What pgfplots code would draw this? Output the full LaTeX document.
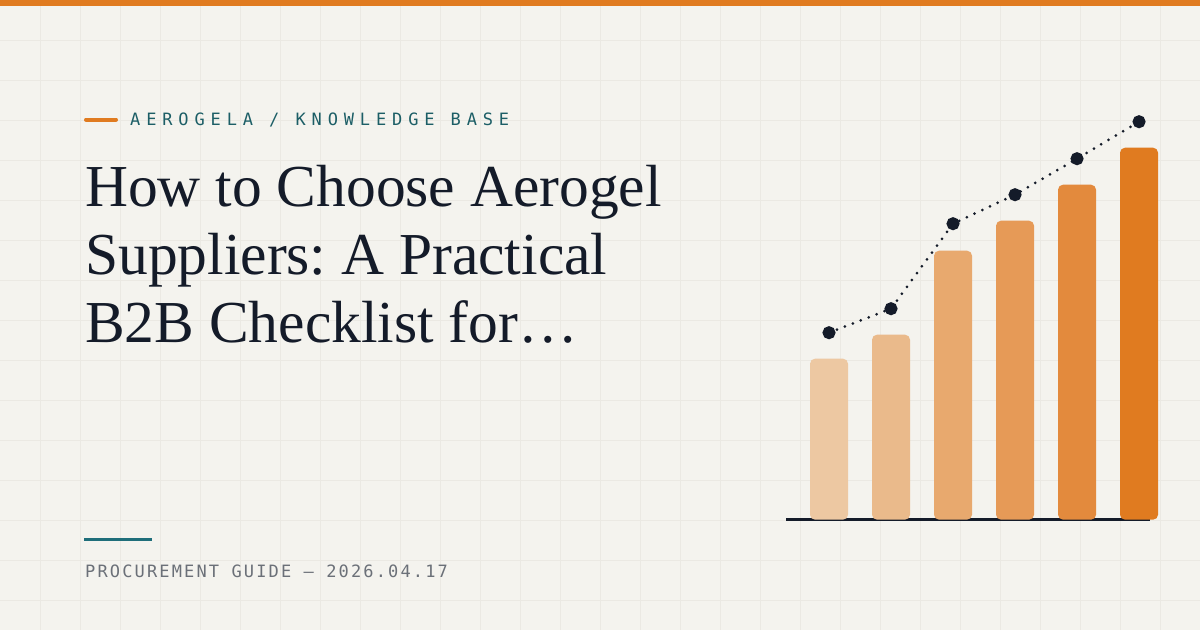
\documentclass[border=0pt]{standalone}
\usepackage{fontspec}
\setmainfont{Liberation Serif}
\newfontfamily\eyebrowfont[LetterSpace=34.5]{DejaVu Sans Mono}
\newfontfamily\footfont[LetterSpace=12.6]{DejaVu Sans Mono}
\usepackage{pgfplots}
\pgfplotsset{compat=1.18}
\definecolor{bg}{HTML}{F4F3EE}
\definecolor{gridc}{HTML}{EBE9E3}
\definecolor{accent}{HTML}{E07B20}
\definecolor{tealtext}{HTML}{1C5E66}
\definecolor{tealline}{HTML}{1F6E7A}
\definecolor{graytext}{HTML}{6B7078}
\definecolor{darkc}{HTML}{141B29}
\definecolor{barA}{HTML}{EDC8A2}
\definecolor{barB}{HTML}{EABA8B}
\definecolor{barC}{HTML}{E8A96E}
\definecolor{barD}{HTML}{E69A57}
\definecolor{barE}{HTML}{E38A3D}
\definecolor{barF}{HTML}{E07B20}
\frenchspacing
\begin{document}
\begin{tikzpicture}[x=1bp,y=1bp]
\useasboundingbox (0,0) rectangle (1200,630);
\fill[bg] (0,0) rectangle (1200,630);
\foreach \i in {40.5,80.5,...,1160.5} \draw[gridc, line width=1.5bp] (\i,0) -- (\i,630);
\foreach \j in {29.5,69.5,...,589.5} \draw[gridc, line width=1.5bp] (0,\j) -- (1200,\j);
\fill[accent] (0,624) rectangle (1200,630);
% eyebrow
\draw[accent, line width=4bp, line cap=round] (86,510.3) -- (116,510.3);
\node[anchor=base west, inner sep=0pt, text=tealtext] at (130,504.5)
  {\fontsize{17bp}{20bp}\eyebrowfont AEROGELA / KNOWLEDGE BASE};
% title
\begin{scope}[every node/.style={anchor=base west, inner sep=0pt, text=darkc}]
\node at (85,423.3) {\fontsize{59.5bp}{68bp}\selectfont How to Choose Aerogel};
\node at (85,355.3) {\fontsize{59.5bp}{68bp}\selectfont Suppliers: A Practical};
\node at (85,287.3) {\fontsize{59.5bp}{68bp}\selectfont B2B Checklist for…};
\end{scope}
% footer
\draw[tealline, line width=3bp] (84,90.5) -- (152,90.5);
\node[anchor=base west, inner sep=0pt, text=graytext] at (85,52.7)
  {\fontsize{17bp}{20bp}\footfont PROCUREMENT GUIDE — 2026.04.17};
% chart
\begin{axis}[
  at={(786bp,110.3bp)}, anchor=south west,
  scale only axis, width=364bp, height=420bp,
  xmin=-0.6935, xmax=5.177, ymin=0, ymax=420,
  axis x line=bottom, axis y line=none,
  x axis line style={-, line width=2.8bp, draw=darkc},
  xtick=\empty, ytick=\empty,
  clip=false,
]
\addplot[ybar, bar width=38bp, bar shift=0pt, fill=barA, draw=none, rounded corners=5bp] coordinates {(0,161)};
\addplot[ybar, bar width=38bp, bar shift=0pt, fill=barB, draw=none, rounded corners=5bp] coordinates {(1,185)};
\addplot[ybar, bar width=38bp, bar shift=0pt, fill=barC, draw=none, rounded corners=5bp] coordinates {(2,269)};
\addplot[ybar, bar width=38bp, bar shift=0pt, fill=barD, draw=none, rounded corners=5bp] coordinates {(3,299)};
\addplot[ybar, bar width=38bp, bar shift=0pt, fill=barE, draw=none, rounded corners=5bp] coordinates {(4,335)};
\addplot[ybar, bar width=38bp, bar shift=0pt, fill=barF, draw=none, rounded corners=5bp] coordinates {(5,372)};
\addplot[darkc, line width=3bp, line cap=round, dash pattern=on 0bp off 8.5bp,
  mark=*, mark size=5bp, mark options={solid, fill=darkc, draw=none}]
  coordinates {(0,187) (1,211) (2,296) (3,325) (4,361) (5,398)};
\end{axis}
\end{tikzpicture}
\end{document}
